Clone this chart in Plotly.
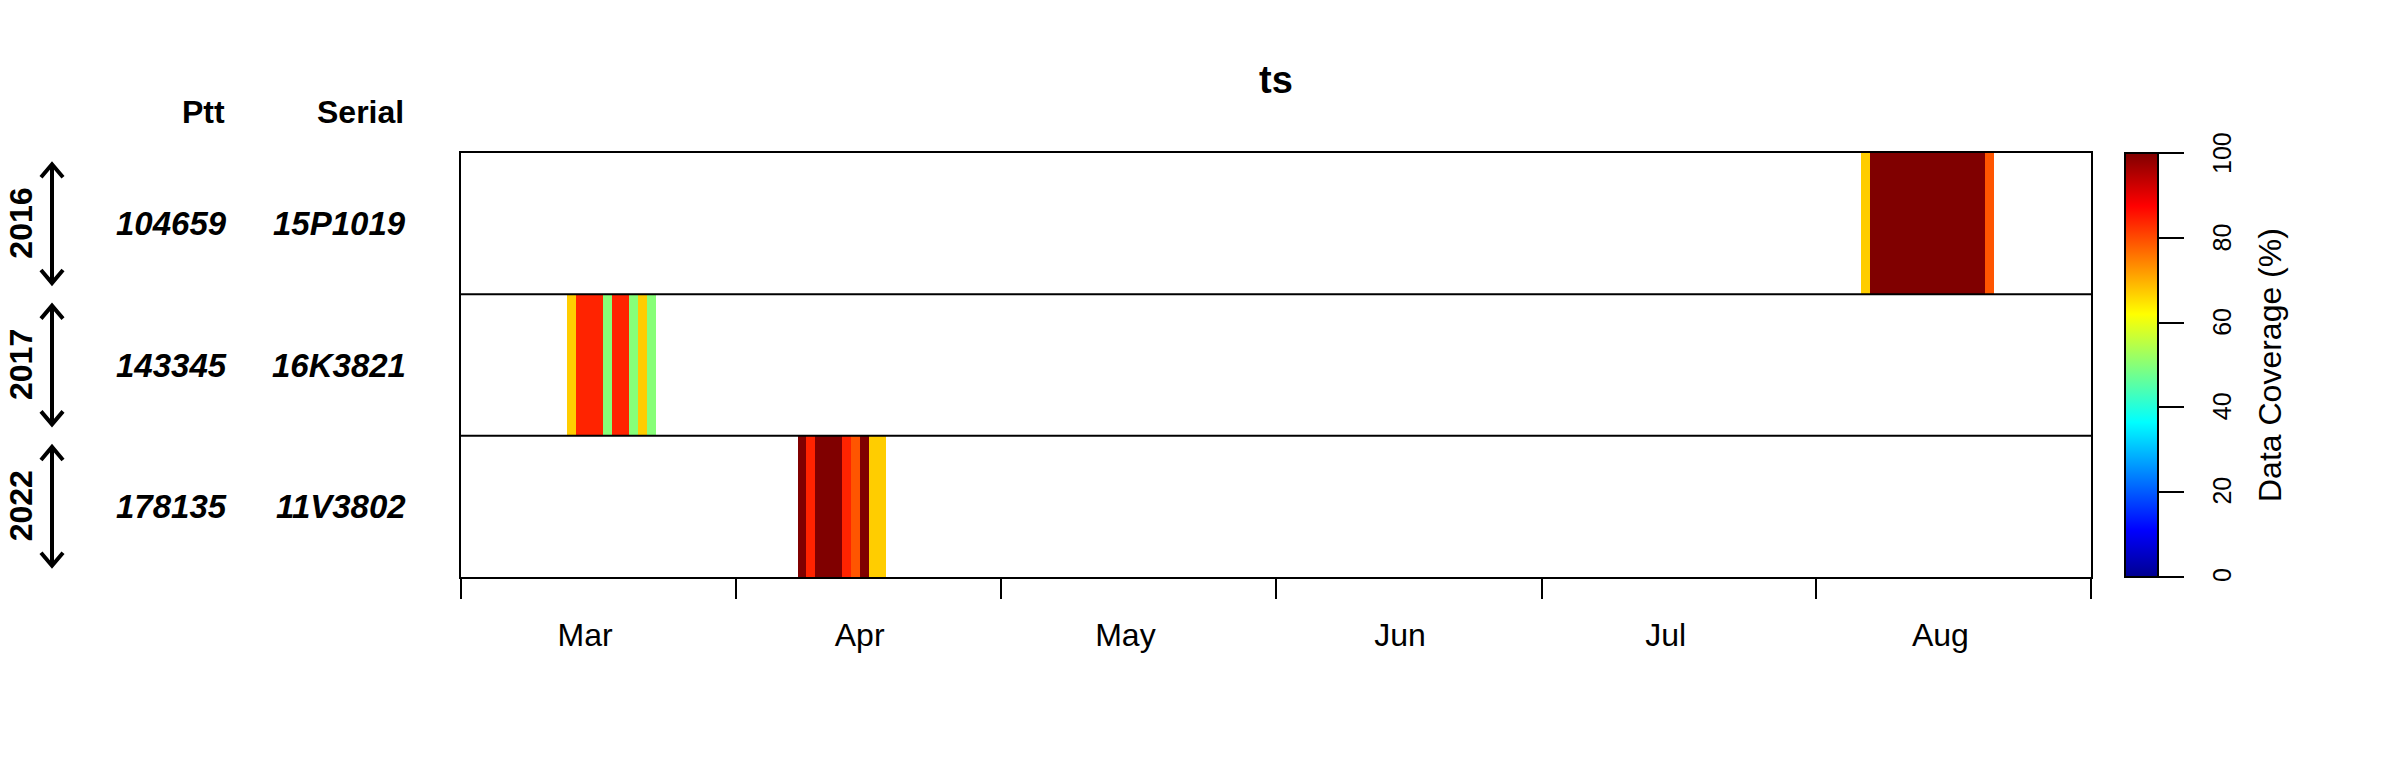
import pandas as pd
import plotly.graph_objects as go

# ---------------- data ----------------
years = ["2016", "2017", "2022"]
ptt_ids = ["104659", "143345", "178135"]
serials = ["15P1019", "16K3821", "11V3802"]
# first day with data, mapped onto a common (dummy) year for the month axis
first_day = ["2000-08-06", "2000-03-13", "2000-04-08"]
coverage_2016 = [67, 100, 100, 100, 100, 100, 100, 100, 100, 100, 100, 100, 100, 100, 79]
coverage_2017 = [67, 84, 84, 84, 50, 84, 84, 50, 67, 50]
coverage_2022 = [100, 84, 100, 100, 100, 84, 79, 100, 67, 67]
coverages = [coverage_2016, coverage_2017, coverage_2022]

month_names = ["Mar", "Apr", "May", "Jun", "Jul", "Aug"]
month_label_days = ["2000-03-15", "2000-04-15", "2000-05-15", "2000-06-15", "2000-07-15", "2000-08-15"]
month_starts = ["2000-03-01", "2000-04-01", "2000-05-01", "2000-06-01", "2000-07-01", "2000-08-01", "2000-09-01"]
cbar_ticks = [0, 20, 40, 60, 80, 100]

# ---------------- layout geometry (pixels) ----------------
W, H = 2400, 768
L, R, T, B = 461, 2091, 153, 577
FONT = "Liberation Sans, Arial, Helvetica, sans-serif"

def px_x(px):
    return (px - L) / (R - L)

def px_y(py):
    return (B - py) / (B - T)

# ---------------- build daily grid ----------------
days = pd.date_range(month_starts[0], "2000-08-31", freq="D")
x_centers = [(d + pd.Timedelta(hours=12)).strftime("%Y-%m-%d %H:%M") for d in days]
row_y = [2, 1, 0]  # 2016 top, 2022 bottom

z = [[None] * len(days) for _ in row_y]
for r, (start, cov) in enumerate(zip(first_day, coverages)):
    i0 = (pd.Timestamp(start) - days[0]).days
    for k, v in enumerate(cov):
        z[r][i0 + k] = v

jet = [[0.0, "rgb(0,0,143)"], [0.11, "rgb(0,0,255)"], [0.365, "rgb(0,255,255)"],
       [0.62, "rgb(255,255,0)"], [0.875, "rgb(255,0,0)"], [1.0, "rgb(128,0,0)"]]

cb_left = 2125
fig = go.Figure()
fig.add_trace(go.Heatmap(
    x=x_centers, y=row_y, z=z, zmin=0, zmax=100, colorscale=jet,
    hoverongaps=False,
    colorbar=dict(
        x=px_x(cb_left), xanchor="left", xpad=0, thickness=33,
        y=0.5, yanchor="middle", len=1, lenmode="fraction", ypad=0,
        outlinewidth=2, outlinecolor="black",
        tickmode="array", tickvals=cbar_ticks, ticks="outside", ticklen=25,
        tickwidth=2, tickcolor="black", showticklabels=False,
    ),
))

shapes = []
# row separators
for yb in [0.5, 1.5]:
    shapes.append(dict(type="line", xref="paper", yref="y", x0=0, x1=1, y0=yb, y1=yb,
                       line=dict(color="black", width=2)))
# double arrows next to year labels
ax = px_x(52)
hx = 11 / (R - L)
hy = 13 / ((B - T) / 3)
for yv in row_y:
    top, bot = yv + 0.42, yv - 0.42
    shapes.append(dict(type="line", xref="paper", yref="y", x0=ax, x1=ax, y0=bot, y1=top,
                       line=dict(color="black", width=4)))
    shapes.append(dict(type="path", xref="paper", yref="y",
                       path=f"M {ax-hx},{top-hy} L {ax},{top} L {ax+hx},{top-hy}",
                       line=dict(color="black", width=4)))
    shapes.append(dict(type="path", xref="paper", yref="y",
                       path=f"M {ax-hx},{bot+hy} L {ax},{bot} L {ax+hx},{bot+hy}",
                       line=dict(color="black", width=4)))

ann = []
# headers
ann.append(dict(text="<b>Ptt</b>", xref="paper", yref="paper", x=px_x(227), y=px_y(112),
                xanchor="right", yanchor="middle", showarrow=False, font=dict(size=32)))
ann.append(dict(text="<b>Serial</b>", xref="paper", yref="paper", x=px_x(406), y=px_y(112),
                xanchor="right", yanchor="middle", showarrow=False, font=dict(size=32)))
for yv, yr, p, s in zip(row_y, years, ptt_ids, serials):
    ann.append(dict(text=f"<b><i>{p}</i></b>", xref="paper", yref="y", x=px_x(229), y=yv,
                    xanchor="right", yanchor="middle", showarrow=False, font=dict(size=33)))
    ann.append(dict(text=f"<b><i>{s}</i></b>", xref="paper", yref="y", x=px_x(408), y=yv,
                    xanchor="right", yanchor="middle", showarrow=False, font=dict(size=33)))
    ann.append(dict(text=f"<b>{yr}</b>", xref="paper", yref="y", x=px_x(21), y=yv,
                    xanchor="center", yanchor="middle", textangle=-90, showarrow=False,
                    font=dict(size=32)))
# colorbar tick labels and title
for v in cbar_ticks:
    ann.append(dict(text=str(v), xref="paper", yref="paper", x=px_x(2222), y=v / 100 * (B - 2 - T) / (B - T) + 2 / (B - T),
                    xanchor="center", yanchor="middle", textangle=-90, showarrow=False,
                    font=dict(size=25)))
ann.append(dict(text="Data Coverage (%)", xref="paper", yref="paper", x=px_x(2270), y=0.5,
                xanchor="center", yanchor="middle", textangle=-90, showarrow=False,
                font=dict(size=32)))

fig.update_layout(
    width=W, height=H,
    margin=dict(l=L, r=W - R, t=T, b=H - B, pad=0),
    paper_bgcolor="white", plot_bgcolor="white",
    font=dict(family=FONT, color="black", size=32),
    title=dict(text="<b>ts</b>", x=0.5, xref="paper", y=1 - 80 / H, yref="container",
               xanchor="center", yanchor="middle", font=dict(size=38)),
    xaxis=dict(
        type="date", range=[month_starts[0], month_starts[-1]],
        tickmode="array", tickvals=month_label_days, ticktext=month_names,
        ticks="outside", ticklen=29, tickcolor="rgba(0,0,0,0)",
        minor=dict(tickmode="array", tickvals=month_starts, ticks="outside", ticklen=20,
                   tickwidth=2, tickcolor="black", showgrid=False),
        showline=True, linewidth=2, linecolor="black", mirror=True,
        showgrid=False, zeroline=False, tickfont=dict(size=32),
    ),
    yaxis=dict(
        range=[-0.5, 2.5], showticklabels=False, ticks="", showgrid=False, zeroline=False,
        showline=True, linewidth=2, linecolor="black", mirror=True,
    ),
    shapes=shapes, annotations=ann,
)

fig.write_html("out.html", config={"displayModeBar": False},
               post_script="document.body.style.margin='0px';")
